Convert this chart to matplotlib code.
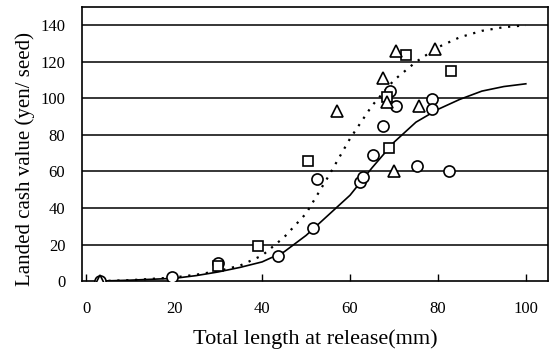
import matplotlib.pyplot as plt
import numpy as np

# Observed landed cash value by release size, three marker groups
circle_x = [3, 19.5, 30, 43.5, 51.5, 52.5, 62.3, 63, 65.3, 67.5, 69, 70.5, 75.2, 78.6, 78.6, 82.5]
circle_y = [0, 2, 10, 14, 29, 56, 54, 57, 69, 85, 104, 96, 63, 99.5, 94, 60]

square_x = [30, 39, 50.5, 68.9, 68.5, 72.7, 82.9]
square_y = [8, 19, 66, 73, 101, 124, 115]

tri_x = [3, 57, 67.6, 68.4, 70, 70.5, 75.7, 79.3]
tri_y = [0, 93, 111, 98, 60, 126, 96, 127]

# Fitted curves read at 5 mm steps
curve_x = [3, 10, 20, 25, 30, 35, 40, 45, 50, 55, 60, 65, 70, 75, 80, 85, 90, 95, 100]
solid_y = [0, 0.5, 1.5, 3, 5, 7.5, 10.5, 16, 25, 36, 47, 62, 76, 87, 94, 99.5, 104, 106.5, 108]
dotted_y = [0, 0.5, 2, 3.5, 5.5, 8.5, 14, 24, 37, 57, 78, 96, 110, 120, 128, 133.5, 137, 139, 140]

plt.rcParams['font.family'] = ['Liberation Serif', 'DejaVu Serif']

fig = plt.figure(figsize=(5.5, 3.54), dpi=100)
ax = fig.add_axes([0.149, 0.206, 0.847, 0.774])

# horizontal grid lines
for yv in range(20, 150, 20):
    ax.axhline(yv, color='black', lw=1.1, zorder=1)

ax.plot(curve_x, solid_y, color='black', lw=1.2, zorder=2)
ax.plot(curve_x, dotted_y, color='black', lw=1.6, ls=(0, (1, 3)), zorder=2)

mk = dict(ls='none', mfc='white', mec='black', mew=1.2, zorder=3)
ax.plot(circle_x, circle_y, marker='o', ms=8, **mk)
ax.plot(square_x, square_y, marker='s', ms=7.5, **mk)
ax.plot(tri_x, tri_y, marker='^', ms=8.5, **mk)

ax.set_xlim(-1, 105)
ax.set_ylim(0, 150)
ax.set_xticks(np.arange(0, 101, 20))
ax.set_yticks(np.arange(0, 141, 20))
ax.tick_params(axis='x', direction='in', length=5, width=1, pad=14, labelsize=12)
ax.tick_params(axis='y', length=0, pad=12, labelsize=12)

for s in ax.spines.values():
    s.set_linewidth(1.2)

ax.set_xlabel('Total length at release(mm)', fontsize=16, labelpad=9)
ax.set_ylabel('Landed cash value (yen/ seed)', fontsize=15)
ax.yaxis.set_label_coords(-0.10, 0.445)

fig.savefig('out.png', dpi=100)
